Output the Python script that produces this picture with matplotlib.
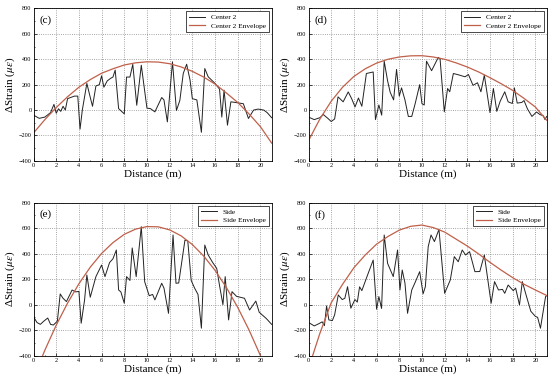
import matplotlib
matplotlib.use("Agg")
import matplotlib.pyplot as plt
from matplotlib.ticker import MultipleLocator

plt.rcParams['font.family'] = ['Liberation Serif', 'DejaVu Serif']
plt.rcParams['mathtext.fontset'] = 'stix'

# envelope sample positions (m)
env_x = [0, 1, 2, 3, 4, 5, 6, 7, 8, 9, 10, 11, 12, 13, 14, 15, 16, 17, 18, 19, 20, 21]

# (c) Center 2
c_x = [0, 0.5, 1.0, 1.5, 1.8, 2.0, 2.2, 2.4, 2.6, 2.8, 3.0, 3.3, 3.6, 3.9, 4.1, 4.3, 4.7, 5.0,
       5.2, 5.5, 5.8, 6.0, 6.2, 6.5, 6.8, 7.0, 7.2, 7.5, 8.0, 8.2, 8.5, 8.75, 9.1, 9.5, 10.0,
       10.3, 10.7, 11.3, 11.5, 11.8, 12.25, 12.6, 12.9, 13.2, 13.5, 13.8, 14.0, 14.4, 14.8,
       15.1, 15.4, 16.0, 16.4, 16.6, 16.8, 17.1, 17.4, 17.8, 18.5, 18.95, 19.4, 19.8, 20.3,
       20.6, 21.0]
c_y = [-40, -65, -55, -20, 45, -25, 10, -10, 30, 0, 90, 100, 110, 110, -150, 0, 210, 100,
       30, 190, 200, 270, 180, 230, 250, 260, 315, 12, -30, 260, 260, 360, 38, 353, 15,
       12, -14, 99, 80, -93, 380, -3, 76, 288, 361, 236, 90, 80, -175, 327, 262, 210, 165,
       -55, 157, -119, 65, 60, 50, -66, 0, 8, 0, -20, -60]
c_env = [-180, -75, 20, 105, 180, 240, 290, 325, 355, 372, 380, 378, 365, 340, 305, 260,
         205, 135, 60, -30, -130, -260]

# (d) Center 2
d_x = [0, 0.5, 1.0, 1.3, 1.7, 2.0, 2.3, 2.6, 3.05, 3.5, 3.8, 4.1, 4.4, 4.7, 5.1, 5.7, 5.9,
       6.2, 6.45, 6.67, 6.97, 7.2, 7.5, 7.76, 8.0, 8.2, 8.5, 8.8, 9.1, 9.4, 9.8, 10.0, 10.2,
       10.4, 10.85, 11.44, 11.6, 11.97, 12.26, 12.45, 12.77, 13.2, 13.8, 14.1, 14.5, 14.9,
       15.2, 15.5, 16.0, 16.3, 16.6, 16.9, 17.3, 17.6, 17.97, 18.15, 18.4, 18.8, 19.0, 19.3,
       19.7, 20.1, 20.4, 20.7, 20.85, 21.0]
d_y = [-55, -75, -60, -35, -65, -90, -70, 104, 65, 143, 90, 25, 95, 30, 288, 300, -75,
       40, -40, 385, 230, 140, 80, 320, 110, 175, 80, -50, -50, 50, 200, 50, 40, 385, 310,
       415, 400, -14, 170, 144, 288, 278, 262, 280, 195, 215, 144, 275, -20, 170, -10, 70,
       144, 65, 52, 175, 55, 60, 75, 10, -50, -15, -35, -45, -75, -50]
d_env = [-240, -70, 70, 180, 265, 325, 370, 400, 418, 427, 428, 418, 400, 372, 339, 300,
         255, 207, 155, 92, 24, -80]

# (e) Side
e_x = [0, 0.3, 0.6, 0.9, 1.25, 1.5, 1.75, 2.1, 2.35, 2.6, 2.9, 3.4, 3.7, 4.0, 4.2, 4.5, 4.7,
       5.0, 5.5, 6.0, 6.3, 6.7, 7.0, 7.3, 7.5, 7.7, 8.0, 8.2, 8.5, 8.7, 9.05, 9.5, 9.8,
       10.2, 10.5, 10.7, 11.3, 11.5, 11.9, 12.3, 12.56, 12.8, 13.35, 13.6, 13.9, 14.2, 14.5,
       14.8, 15.1, 15.4, 15.8, 16.15, 16.4, 16.7, 16.9, 17.2, 17.5, 17.9, 18.6, 19.05, 19.6,
       19.9, 20.5, 21.0]
e_y = [-95, -140, -155, -130, -105, -155, -160, -130, 84, 50, 24, 115, 100, 104, -146, 37,
       233, 58, 220, 311, 220, 330, 360, 429, 115, 100, 11, 220, 190, 445, 220, 612, 180,
       70, 80, 37, 168, 130, -68, 547, 168, 170, 507, 500, 190, 130, 80, -185, 468, 390,
       330, 285, 150, 0, 220, -120, 102, 65, 50, -42, 28, -60, -107, -155]
e_env = [-575, -357, -161, 12, 164, 294, 402, 487, 552, 593, 613, 611, 587, 541, 472, 382,
         270, 135, -21, -199, -399, -617]

# (f) Side
f_x = [0, 0.5, 0.9, 1.2, 1.4, 1.59, 1.79, 2.1, 2.3, 2.62, 2.97, 3.2, 3.44, 3.73, 4.09, 4.3,
       4.5, 4.7, 5.26, 5.7, 6.0, 6.2, 6.44, 6.67, 6.97, 7.47, 7.85, 8.06, 8.26, 8.5, 8.73,
       9.1, 9.4, 9.8, 10.1, 10.3, 10.55, 10.8, 11.1, 11.5, 12.0, 12.5, 12.85, 13.2, 13.55,
       13.85, 14.2, 14.67, 15.1, 15.5, 16.1, 16.4, 16.75, 17.1, 17.3, 17.6, 18.05, 18.26,
       18.6, 18.85, 19.2, 19.6, 20.0, 20.2, 20.45, 20.9, 21.0]
f_y = [-140, -167, -150, -135, -165, -10, -120, -125, -80, 76, 40, 50, 141, -28, 40, 20,
       140, 110, 246, 350, -36, 63, -30, 547, 324, 220, 429, 115, 272, 170, -68, 115, 175,
       259, 85, 141, 455, 547, 495, 591, 89, 194, 377, 337, 429, 390, 416, 259, 260, 390, 11,
       181, 115, 120, 89, 154, 110, 130, -2, 181, 70, -52, -92, -100, -185, 63, 70]
f_env = [-500, -225, 15, 160, 290, 390, 475, 535, 585, 615, 625, 605, 570, 515, 460, 398,
         332, 270, 212, 160, 115, 72]

panels = [
    ('(c)', c_x, c_y, c_env, 'Center 2', [0.061, 0.581, 0.433, 0.397]),
    ('(d)', d_x, d_y, d_env, 'Center 2', [0.561, 0.581, 0.433, 0.397]),
    ('(e)', e_x, e_y, e_env, 'Side', [0.061, 0.074, 0.433, 0.398]),
    ('(f)', f_x, f_y, f_env, 'Side', [0.561, 0.074, 0.433, 0.398]),
]

fig = plt.figure(figsize=(5.5, 3.84), dpi=100)

for tag, xs, ys, env, name, pos in panels:
    ax = fig.add_axes(pos)
    ax.plot(xs, ys, color='#222222', lw=0.7, label=name)
    ax.plot(env_x, env, color='#c0604a', lw=0.9, label=name + ' Envelope')
    ax.set_xlim(0, 21)
    ax.set_ylim(-400, 800)
    ax.xaxis.set_major_locator(MultipleLocator(2))
    ax.xaxis.set_minor_locator(MultipleLocator(1))
    ax.yaxis.set_major_locator(MultipleLocator(200))
    ax.yaxis.set_minor_locator(MultipleLocator(100))
    ax.tick_params(which='both', direction='in', labelsize=4.5, pad=1.5, width=0.5)
    ax.tick_params(which='major', length=2)
    ax.tick_params(which='minor', length=1)
    ax.grid(True, which='major', linestyle=':', color='#888888', lw=0.6)
    for s in ax.spines.values():
        s.set_linewidth(0.6)
    ax.set_xlabel('Distance (m)', fontsize=8, labelpad=1)
    ax.set_ylabel('ΔStrain ($\\mu\\varepsilon$)', fontsize=8, labelpad=1)
    ax.text(0.025, 0.955, tag, transform=ax.transAxes, fontsize=8, va='top', ha='left')
    leg = ax.legend(loc='upper right', fontsize=5.3, frameon=True, fancybox=False,
                    edgecolor='black', framealpha=1, borderaxespad=0.4, handlelength=2.2,
                    borderpad=0.4, labelspacing=0.3)
    leg.get_frame().set_linewidth(0.5)

plt.savefig('out.png', dpi=100)
